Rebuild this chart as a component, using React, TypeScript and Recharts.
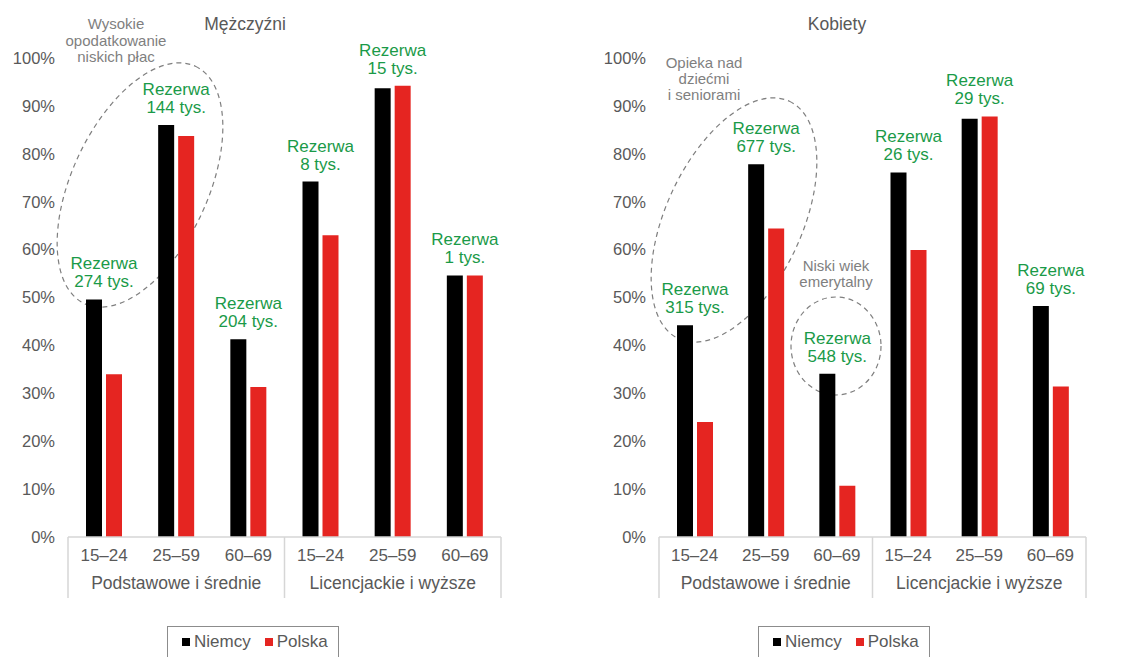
// @ts-nocheck
import { BarChart, Bar, XAxis, YAxis, Legend, LabelList } from 'recharts';

const FONT = '"Liberation Sans", Arial, Helvetica, sans-serif';
const GREEN = '#1a9a48';
const RED = '#e52521';
const GREY_TEXT = '#595959';
const NOTE_TEXT = '#7f7f7f';
const AXIS_GREY = '#d6d6d6';

const ages = ['15–24', '25–59', '60–69', '15–24', '25–59', '60–69'];
const groups = ['Podstawowe i średnie', 'Podstawowe i średnie', 'Podstawowe i średnie', 'Licencjackie i wyższe', 'Licencjackie i wyższe', 'Licencjackie i wyższe'];
const yTicks = [0, 10, 20, 30, 40, 50, 60, 70, 80, 90, 100];

const menNiemcy = [49.6, 86, 41.3, 74.2, 93.7, 54.6];
const menPolska = [34, 83.7, 31.3, 63, 94.2, 54.6];
const menReserve = ['274', '144', '204', '8', '15', '1'];

const womenNiemcy = [44.2, 77.8, 34.1, 76.1, 87.3, 48.2];
const womenPolska = [24, 64.4, 10.7, 59.9, 87.8, 31.4];
const womenReserve = ['315', '677', '548', '26', '29', '69'];

const buildRows = (niemcy, polska, reserve) =>
  ages.map((a, i) => ({ key: `${i}-${a}`, age: a, group: groups[i], niemcy: niemcy[i], polska: polska[i], reserve: reserve[i] }));

const menRows = buildRows(menNiemcy, menPolska, menReserve);
const womenRows = buildRows(womenNiemcy, womenPolska, womenReserve);

const BAR_SIZE = 16;
const BAR_GAP = 4;

function makeTick(catW) {
  return function CategoryTick(props: any) {
    const { x, y, index } = props;
    const half = catW / 2;
    return (
      <g>
        <text x={x} y={y + 24} textAnchor="middle" fontSize={17} fill={GREY_TEXT} fontFamily={FONT}>{ages[index]}</text>
        {index % 3 === 1 && (
          <text x={x} y={y + 52} textAnchor="middle" fontSize={17.5} fill={GREY_TEXT} fontFamily={FONT}>{groups[index]}</text>
        )}
        {index % 3 === 0 && <line x1={x - half} x2={x - half} y1={y} y2={y + 61} stroke={AXIS_GREY} strokeWidth={1.5} />}
        {index === ages.length - 1 && <line x1={x + half} x2={x + half} y1={y} y2={y + 61} stroke={AXIS_GREY} strokeWidth={1.5} />}
      </g>
    );
  };
}

// label sits over the pair of bars, above the taller one
function makeReserveLabel(rows) {
  return function ReserveLabel(props: any) {
    const vb = props.viewBox || props;
    const x = vb.x ?? props.x;
    const y = vb.y ?? props.y;
    const width = vb.width ?? props.width;
    const height = vb.height ?? props.height;
    const row = rows[props.index];
    if (!row) return null;
    const pxPer = height / row.niemcy;
    const top = y - Math.max(0, row.polska - row.niemcy) * pxPer;
    const cx = x + width + BAR_GAP / 2;
    return (
      <text textAnchor="middle" fontSize={17} fill={GREEN} fontFamily={FONT}>
        <tspan x={cx} y={top - 30}>Rezerwa</tspan>
        <tspan x={cx} y={top - 12}>{row.reserve} tys.</tspan>
      </text>
    );
  };
}

function LegendBox({ payload }: any) {
  return (
    <div style={{ border: '1.5px solid #8c8c8c', width: 172, height: 44, boxSizing: 'border-box', display: 'flex', alignItems: 'center', paddingLeft: 14, paddingBottom: 12, fontFamily: FONT, fontSize: 17, color: GREY_TEXT }}>
      {(payload || []).map((p: any) => (
        <span key={p.value} style={{ display: 'flex', alignItems: 'center', marginRight: 14 }}>
          <span style={{ display: 'inline-block', width: 8, height: 8, background: p.color, marginRight: 4 }} />
          {p.value}
        </span>
      ))}
    </div>
  );
}

function Panel({ rows, width, yAxisWidth, rightMargin, legendLeft }: any) {
  const plotW = width - yAxisWidth - rightMargin;
  return (
    <BarChart width={width} height={657} data={rows} margin={{ top: 58, right: rightMargin, left: 0, bottom: 58 }} barSize={BAR_SIZE} barGap={BAR_GAP}>
      <XAxis dataKey="key" type="category" interval={0} height={62} tickSize={0} tickMargin={0} tickLine={false} axisLine={{ stroke: AXIS_GREY, strokeWidth: 1.5 }} tick={makeTick(plotW / rows.length)} />
      <YAxis width={yAxisWidth} domain={[0, 100]} ticks={yTicks} tickFormatter={(v) => `${v}%`} axisLine={false} tickLine={false} tickSize={0} tickMargin={13} tick={{ fontSize: 16.5, fill: GREY_TEXT, fontFamily: FONT }} />
      <Legend verticalAlign="middle" align="center" layout="horizontal" content={<LegendBox />} wrapperStyle={{ left: legendLeft, top: 626, width: 'auto', height: 'auto' }} />
      <Bar dataKey="niemcy" name="Niemcy" fill="#000000" isAnimationActive={false}>
        <LabelList dataKey="niemcy" content={makeReserveLabel(rows)} />
      </Bar>
      <Bar dataKey="polska" name="Polska" fill={RED} isAnimationActive={false} />
    </BarChart>
  );
}

export default function App() {
  const dash = { fill: 'none', stroke: '#7f7f7f', strokeWidth: 1.2, strokeDasharray: '5 4' };
  return (
    <div style={{ position: 'absolute', left: 0, top: 0, width: 1136, height: 657, background: '#fff', fontFamily: FONT, overflow: 'hidden' }}>
      <svg width={1136} height={657} style={{ position: 'absolute', left: 0, top: 0 }}>
        <ellipse cx={140} cy={185} rx={131} ry={68} transform="rotate(-65 140 185)" {...dash} />
        <ellipse cx={734} cy={220} rx={131} ry={68} transform="rotate(-65 734 220)" {...dash} />
        <ellipse cx={836} cy={346} rx={45} ry={49} {...dash} />
        <text x={245} y={30} textAnchor="middle" fontSize={17.5} fill={GREY_TEXT} fontFamily={FONT}>Mężczyźni</text>
        <text x={837} y={30} textAnchor="middle" fontSize={17.5} fill={GREY_TEXT} fontFamily={FONT}>Kobiety</text>
        <text textAnchor="middle" fontSize={15} fill={NOTE_TEXT} fontFamily={FONT}>
          <tspan x={116} y={29}>Wysokie</tspan>
          <tspan x={116} y={46}>opodatkowanie</tspan>
          <tspan x={116} y={62}>niskich płac</tspan>
        </text>
        <text textAnchor="middle" fontSize={15} fill={NOTE_TEXT} fontFamily={FONT}>
          <tspan x={704} y={68}>Opieka nad</tspan>
          <tspan x={704} y={84}>dziećmi</tspan>
          <tspan x={704} y={100}>i seniorami</tspan>
        </text>
        <text textAnchor="middle" fontSize={15} fill={NOTE_TEXT} fontFamily={FONT}>
          <tspan x={836} y={271}>Niski wiek</tspan>
          <tspan x={836} y={287}>emerytalny</tspan>
        </text>
      </svg>
      <div style={{ position: 'absolute', left: 0, top: 0 }}>
        <Panel rows={menRows} width={560} yAxisWidth={68} rightMargin={59} legendLeft={167} />
      </div>
      <div style={{ position: 'absolute', left: 568, top: 0 }}>
        <Panel rows={womenRows} width={568} yAxisWidth={91} rightMargin={50} legendLeft={190} />
      </div>
    </div>
  );
}
